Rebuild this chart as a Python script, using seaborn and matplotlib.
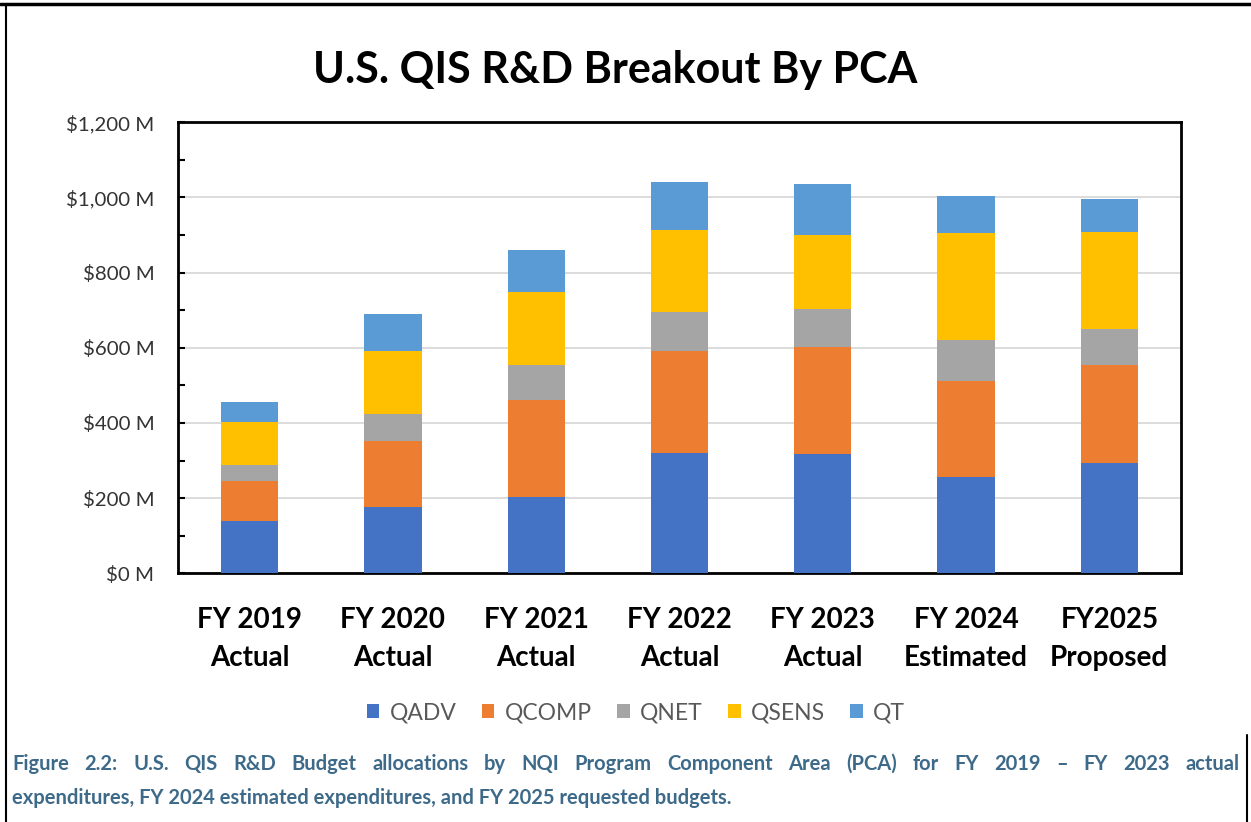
import matplotlib
matplotlib.use("Agg")
import matplotlib.pyplot as plt
from matplotlib.lines import Line2D
from matplotlib.patches import Patch
import seaborn as sns
import pandas as pd
import numpy as np

# ---- data (values in $M) ----
categories = ["FY 2019\nActual", "FY 2020\nActual", "FY 2021\nActual", "FY 2022\nActual",
              "FY 2023\nActual", "FY 2024\nEstimated", "FY2025\nProposed"]
series_names = ["QADV", "QCOMP", "QNET", "QSENS", "QT"]
qadv = [140, 176, 203, 321, 318, 256, 294]
qcomp = [106, 177, 259, 270, 285, 256, 260]
qnet = [42, 71, 92, 104, 100, 109, 97]
qsens = [115, 168, 194, 218, 198, 285, 257]
qt = [52, 97, 112, 129, 135, 98, 88]
colors = ["#4472C4", "#ED7D31", "#A5A5A5", "#FFC000", "#5B9BD5"]
yticks = [0, 200, 400, 600, 800, 1000, 1200]
ytick_labels = ["$0 M", "$200 M", "$400 M", "$600 M", "$800 M", "$1,000 M", "$1,200 M"]

title = "U.S. QIS R&D Breakout By PCA"
caption1 = ("Figure 2.2: U.S. QIS R&D Budget allocations by NQI Program Component Area (PCA) "
            "for FY 2019 \u2013 FY 2023 actual")
caption2 = "expenditures, FY 2024 estimated expenditures, and FY 2025 requested budgets."

sns.set_theme(style="white")
plt.rcParams["font.family"] = ["Lato", "DejaVu Sans"]

W, H = 1251, 822
fig = plt.figure(figsize=(W / 100, H / 100), dpi=100)
ax = fig.add_axes([178 / W, 1 - 573.3 / H, 1003 / W, 451 / H])

values = [qadv, qcomp, qnet, qsens, qt]
df = pd.DataFrame({"category": categories})
cum = np.zeros(len(categories))
for name, vals in zip(series_names, values):
    cum = cum + np.array(vals)
    df[name + "_top"] = cum

# draw cumulative totals from the top series down so lower segments overlay
for name, col in reversed(list(zip(series_names, colors))):
    sns.barplot(data=df, x="category", y=name + "_top", color=col, width=0.40,
                saturation=1, ax=ax, edgecolor="none", linewidth=0, zorder=3)

ax.set_xlim(-0.5, len(categories) - 0.5)
ax.set_ylim(0, 1200)
ax.set_yticks(yticks)
ax.set_yticklabels(ytick_labels, fontsize=14.7, color="#333333")
ax.set_yticks(np.arange(100, 1200, 100), minor=True)
ax.yaxis.grid(True, which="major", color="#D9D9D9", linewidth=1.3, zorder=0)
ax.set_axisbelow(True)
ax.tick_params(axis="y", which="both", direction="in", length=5, width=1.5,
               color="black", left=True, pad=17)
ax.tick_params(axis="x", length=0, pad=24)
for lab in ax.get_xticklabels():
    lab.set_fontsize(20)
    lab.set_fontweight("bold")
    lab.set_color("black")
    lab.set_linespacing(1.6)
ax.set_xlabel("")
ax.set_ylabel("")
for sp in ax.spines.values():
    sp.set_visible(True)
    sp.set_color("black")
    sp.set_linewidth(2)

fig.text(615 / W, 1 - 70 / H, title, ha="center", va="center", fontsize=31,
         fontweight="bold", color="black")

handles = [Patch(facecolor=c, edgecolor="none") for c in colors]
leg = fig.legend(handles, series_names, loc="center", bbox_to_anchor=(636 / W, 1 - 713 / H),
                 ncol=5, frameon=False, fontsize=16.5, handlelength=0.55, handleheight=0.55,
                 handletextpad=0.45, columnspacing=1.1, borderpad=0, borderaxespad=0)
for t in leg.get_texts():
    t.set_color("#595959")

# borders
fig.add_artist(Line2D([0, 1], [1 - 4 / H, 1 - 4 / H], color="black", linewidth=2.5,
                      transform=fig.transFigure))
fig.add_artist(Line2D([6 / W, 6 / W], [0, 1 - 4 / H], color="black", linewidth=1.5,
                      transform=fig.transFigure))
fig.add_artist(Line2D([1247 / W, 1247 / W], [0, 1 - 735 / H], color="black", linewidth=1.5,
                      transform=fig.transFigure))

# caption (first line justified)
cap_color = "#3E6A8A"
cap_size = 14.5
renderer = fig.canvas.get_renderer()
words = caption1.split(" ")
x0, x1 = 12, 1240
texts = []
widths = []
for w in words:
    t = fig.text(0, 1 - 764 / H, w, ha="left", va="center", fontsize=cap_size,
                 fontweight="bold", color=cap_color)
    texts.append(t)
    widths.append(t.get_window_extent(renderer).width)
gap = (x1 - x0 - sum(widths)) / (len(words) - 1)
x = x0
for t, wd in zip(texts, widths):
    t.set_x(x / W)
    x += wd + gap
fig.text(x0 / W, 1 - 798 / H, caption2, ha="left", va="center", fontsize=cap_size,
         fontweight="bold", color=cap_color)

fig.savefig("out.png", dpi=100)
